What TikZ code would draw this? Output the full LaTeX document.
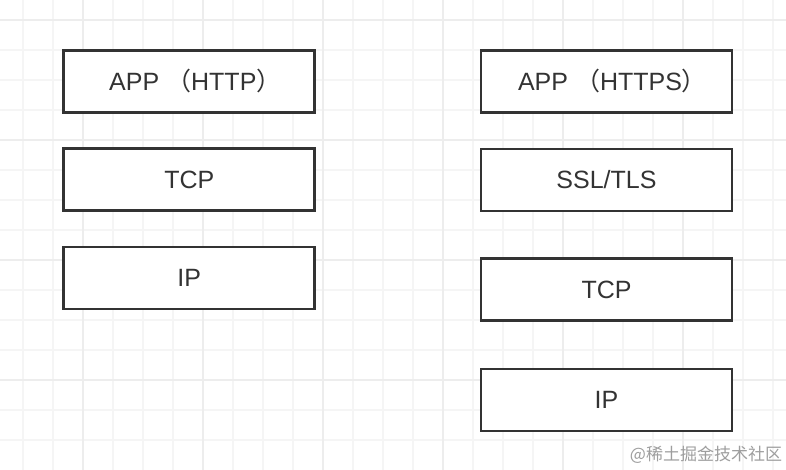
\documentclass[tikz,border=0pt]{standalone}
\usepackage{fontspec}
\setmainfont{Liberation Sans}
\newfontfamily\cjk{Noto Sans CJK SC}
\usepackage{tikz}
\definecolor{gridminor}{HTML}{F5F5F5}
\definecolor{gridmajor}{HTML}{EDEDED}
\definecolor{ink}{HTML}{333333}
\begin{document}
\begin{tikzpicture}[x=1bp, y=-1bp,
		layer/.style={draw=ink, line width=2.7bp, fill=white, text=ink,
			minimum width=251bp, minimum height=62bp, inner sep=0pt,
			font=\fontsize{25bp}{30bp}\selectfont},
		gridline/.style={draw=gridminor, line width=1.1bp}]
			\useasboundingbox[fill=white] (0, 0) rectangle (786, 470);
			\foreach \x in {23, 53, ..., 773} \draw[gridline] (\x, 0) -- (\x, 470);
			\foreach \y in {20, 50, ..., 440} \draw[gridline] (0, \y) -- (786, \y);
			\foreach \x in {83, 203, ..., 683} \draw[gridline, draw=gridmajor] (\x, 0) -- (\x, 470);
			\foreach \y in {20, 140, 260, 380} \draw[gridline, draw=gridmajor] (0, \y) -- (786, \y);
			\node[layer] (l1) at (189.3, 81.3) {APP {\cjk （}HTTP{\cjk ）}\kern-12bp};
			\node[layer] (l2) at (189.3, 179.5) {TCP};
			\node[layer] (l3) at (189.3, 278) {IP};
			\node[layer] (r1) at (606.5, 81.3) {APP {\cjk （}HTTPS{\cjk ）}\kern-12bp};
			\node[layer] (r2) at (606.5, 180) {SSL/TLS};
			\node[layer] (r3) at (606.5, 289.5) {TCP};
			\node[layer] (r4) at (606.5, 400) {IP};
			\node[text=black!38, font=\cjk\fontsize{17bp}{20bp}\selectfont] (wm) at (706, 455) {@稀土掘金技术社区};
		\end{tikzpicture}
\end{document}
